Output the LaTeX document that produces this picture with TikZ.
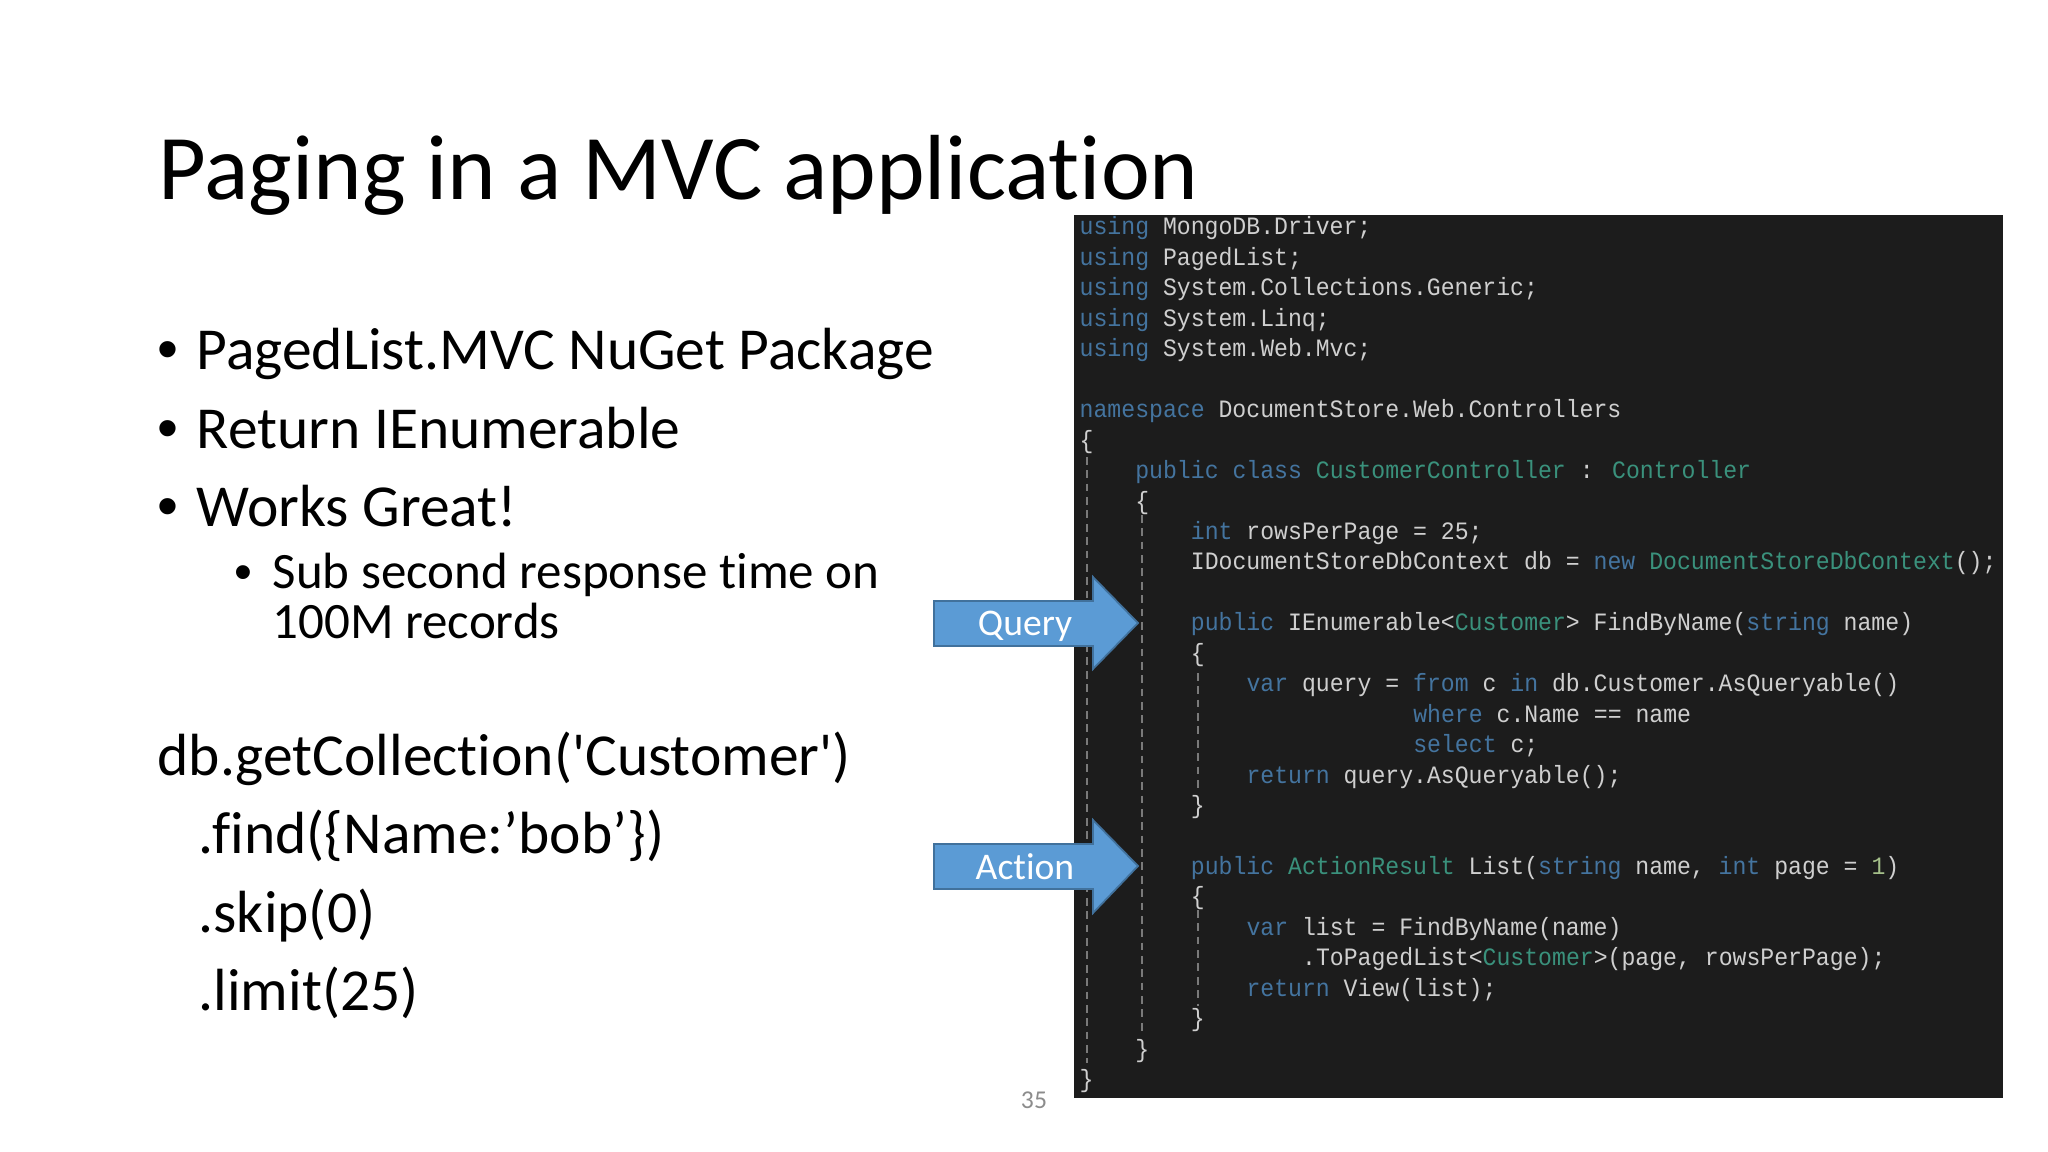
\documentclass[tikz,border=0pt]{standalone}
\usepackage{fontspec}
\newfontfamily\slidefont[Ligatures=NoCommon]{Carlito}
\newfontfamily\dotfont{Liberation Sans}
\newfontfamily\codefont[FakeStretch=0.927]{Liberation Mono}
\definecolor{panelbg}{HTML}{1C1C1C}
\definecolor{guidegray}{HTML}{7A7A7A}
\definecolor{kwblue}{HTML}{44749F}
\definecolor{tygreen}{HTML}{3A917C}
\definecolor{plaingray}{HTML}{CFCFCF}
\definecolor{numgreen}{HTML}{A5C08A}
\definecolor{arrowfill}{HTML}{5B9BD5}
\definecolor{arrowline}{HTML}{41719C}
\definecolor{pagegray}{HTML}{8C8C8C}
\tikzset{
	slidetext/.style={anchor=base west, inner sep=0, text=black, font=\slidefont\fontsize{16.93}{20}\selectfont},
	subtext/.style={slidetext, font=\slidefont\fontsize{14.5}{14.2}\selectfont},
	dottext/.style={anchor=base west, inner sep=0, text=black, font=\dotfont\fontsize{17}{20}\selectfont},
	codetext/.style={anchor=base west, inner sep=0, text=plaingray, font=\codefont\fontsize{7.1}{8}\selectfont},
	guide/.style={guidegray, line width=0.5pt, dash pattern=on 2.2pt off 1.6pt},
	callout/.style={fill=arrowfill, draw=arrowline, line width=0.5pt},
	calloutlabel/.style={inner sep=0, anchor=base, text=white, font=\slidefont\fontsize{10.7}{12}\selectfont}
}
\newcommand{\kw}[1]{\textcolor{kwblue}{#1}}
\newcommand{\ty}[1]{\textcolor{tygreen}{#1}}
\def\codeline(#1:#2)#3{\node[codetext] (row#1) at ({1079+#2*13.9},{235+#1*30.45}) {#3};}
\begin{document}
\begin{tikzpicture}[x=0.01cm,y=-0.01cm]
		%%%%% START %%%%%
		\useasboundingbox[fill=white] (0, 0) rectangle (2048, 1152);
		
		\node[slidetext, font=\slidefont\fontsize{26.3}{30}\selectfont] (title) at (158, 200) {Paging in a MVC application};
		
		\node[dottext] (dotone) at (157, 370) {•};
		\node[slidetext] (itemone) at (196, 370) {PagedList.MVC NuGet Package};
		\node[dottext] (dottwo) at (157, 449) {•};
		\node[slidetext] (itemtwo) at (196, 449) {Return IEnumerable};
		\node[dottext] (dotthree) at (157, 527) {•};
		\node[slidetext] (itemthree) at (196, 527) {Works Great!};
		\node[dottext, font=\dotfont\fontsize{14.5}{16}\selectfont] (dotsub) at (234, 590) {•};
		\node[subtext, anchor=north west, align=left] (itemsub) at (272, 552) {Sub second response time on\\100M records};
		
		\node[slidetext] (queryone) at (157, 775) {db.getCollection('Customer')};
		\node[slidetext] (querytwo) at (198, 853) {.find(\{Name:’bob’\})};
		\node[slidetext] (querythree) at (198, 932) {.skip(0)};
		\node[slidetext] (queryfour) at (198, 1010) {.limit(25)};
		
		\node[inner sep=0, text=pagegray, font=\slidefont\fontsize{7.3}{9}\selectfont] (pagenum) at (1034, 1100) {35};
		
		\fill[panelbg] (1074, 215) rectangle (2003, 1098);
		
		\draw[guide] (1087, 457) -- (1087, 1063);
		\draw[guide] (1142, 515) -- (1142, 1033);
		\draw[guide] (1198, 673) -- (1198, 793);
		\draw[guide] (1198, 910) -- (1198, 1006);
		
		\codeline(0:0){\kw{using} MongoDB.Driver;}
		\codeline(1:0){\kw{using} PagedList;}
		\codeline(2:0){\kw{using} System.Collections.Generic;}
		\codeline(3:0){\kw{using} System.Linq;}
		\codeline(4:0){\kw{using} System.Web.Mvc;}
		\codeline(6:0){\kw{namespace} DocumentStore.Web.Controllers}
		\codeline(7:0){\{}
		\codeline(8:4){\kw{public} \kw{class} \ty{CustomerController} : \ty{Controller}}
		\codeline(9:4){\{}
		\codeline(10:8){\kw{int} rowsPerPage = 25;}
		\codeline(11:8){IDocumentStoreDbContext db = \kw{new} \ty{DocumentStoreDbContext}();}
		\codeline(13:8){\kw{public} IEnumerable<\ty{Customer}> FindByName(\kw{string} name)}
		\codeline(14:8){\{}
		\codeline(15:12){\kw{var} query = \kw{from} c \kw{in} db.Customer.AsQueryable()}
		\codeline(16:24){\kw{where} c.Name == name}
		\codeline(17:24){\kw{select} c;}
		\codeline(18:12){\kw{return} query.AsQueryable();}
		\codeline(19:8){\}}
		\codeline(21:8){\kw{public} \ty{ActionResult} List(\kw{string} name, \kw{int} page = \textcolor{numgreen}{1})}
		\codeline(22:8){\{}
		\codeline(23:12){\kw{var} list = FindByName(name)}
		\codeline(24:16){.ToPagedList<\ty{Customer}>(page, rowsPerPage);}
		\codeline(25:12){\kw{return} View(list);}
		\codeline(26:8){\}}
		\codeline(27:4){\}}
		\codeline(28:0){\}}
		
		\draw[callout] (934, 601) -- (1093, 601) -- (1093, 577) -- (1138, 623) -- (1093, 669) -- (1093, 646) -- (934, 646) -- cycle;
		\node[calloutlabel] (querylabel) at (1025, 635) {Query};
		\draw[callout] (934, 844) -- (1093, 844) -- (1093, 820) -- (1138, 866) -- (1093, 913) -- (1093, 889) -- (934, 889) -- cycle;
		\node[calloutlabel] (actionlabel) at (1025, 879) {Action};
		%%%%% END %%%%%
	\end{tikzpicture}
\end{document}
